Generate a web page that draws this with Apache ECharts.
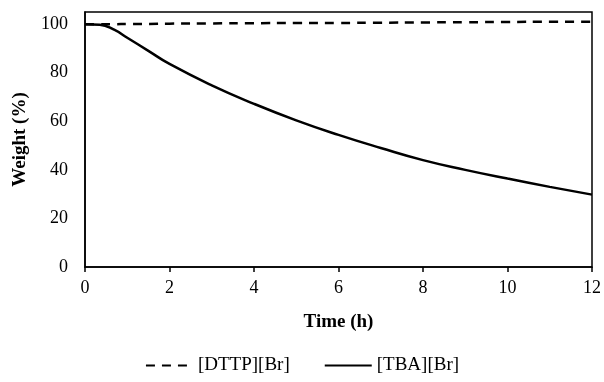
<!DOCTYPE html>
<html lang="en">
<head>
    <meta charset="UTF-8">
    <title>Weight loss</title>
    <style>
        html, body { margin: 0; padding: 0; background: #fff; }
        #main { width: 604px; height: 382px; }
    </style>
    <script src="https://cdn.jsdelivr.net/npm/echarts@6/dist/echarts.min.js"></script>
</head>
<body>
    <div id="main"></div>
    <script>
        // values
        let timeH = [0, 0.35, 0.7, 1, 1.5, 2, 3, 4, 5, 6, 7, 8, 9, 10, 11, 12];
        let dttp = [100, 100, 100, 100.1, 100.1, 100.2, 100.3, 100.4, 100.5, 100.5, 100.6, 100.7, 100.8, 100.9, 101, 101];
        let tba = [100, 99.8, 97.6, 94.4, 89, 83.6, 74.8, 67.2, 60.4, 54.4, 49, 44, 40, 36.4, 33, 29.8];
        let yTicks = [0, 20, 40, 60, 80, 100];

        let font = 'Liberation Serif';

        function pairs(xs, ys) {
            let out = [];
            for (let i = 0; i < xs.length; i++) out.push([xs[i], ys[i]]);
            return out;
        }

        let chart = echarts.init(document.getElementById('main'));
        let option = {
            animation: false,
            backgroundColor: '#fff',
            grid: {
                left: 85, right: 10, top: 12, bottom: 115,
                show: true, borderColor: '#000', borderWidth: 1.5
            },
            legend: {
                top: 351,
                left: 'center',
                itemWidth: 47,
                itemHeight: 18,
                itemGap: 34,
                itemStyle: { opacity: 0 },
                textStyle: { fontFamily: font, fontSize: 19, color: '#000' },
                data: ['[DTTP][Br]', '[TBA][Br]']
            },
            xAxis: {
                type: 'value',
                min: 0, max: 12, interval: 2,
                name: 'Time (h)',
                nameLocation: 'middle',
                nameGap: 46,
                nameTextStyle: { fontFamily: font, fontSize: 19, fontWeight: 'bold', color: '#000' },
                axisLine: { lineStyle: { color: '#000', width: 1.5 } },
                axisTick: { show: true, inside: false, length: 5, lineStyle: { color: '#000', width: 1.5 } },
                axisLabel: { fontFamily: font, fontSize: 18, color: '#000', margin: 12 },
                splitLine: { show: false }
            },
            yAxis: {
                type: 'value',
                min: 0, max: 105, interval: 20,
                name: 'Weight (%)',
                nameLocation: 'middle',
                nameRotate: 90,
                nameGap: 55,
                nameTextStyle: { fontFamily: font, fontSize: 19, fontWeight: 'bold', color: '#000' },
                axisLine: { show: true, lineStyle: { color: '#000', width: 1.5 } },
                axisTick: { show: false },
                axisLabel: {
                    fontFamily: font, fontSize: 18, color: '#000', margin: 17,
                    formatter: function (v) { return yTicks.indexOf(v) >= 0 ? String(v) : ''; }
                },
                splitLine: { show: false }
            },
            series: [
                {
                    name: '[DTTP][Br]',
                    type: 'line',
                    symbol: 'none',
                    smooth: true,
                    data: pairs(timeH, dttp),
                    lineStyle: { color: '#000', width: 2.5, type: [9, 7] },
                    itemStyle: { color: '#000' }
                },
                {
                    name: '[TBA][Br]',
                    type: 'line',
                    symbol: 'none',
                    smooth: true,
                    data: pairs(timeH, tba),
                    lineStyle: { color: '#000', width: 2.5 },
                    itemStyle: { color: '#000' }
                }
            ]
        };
        chart.setOption(option);
    </script>
</body>
</html>
